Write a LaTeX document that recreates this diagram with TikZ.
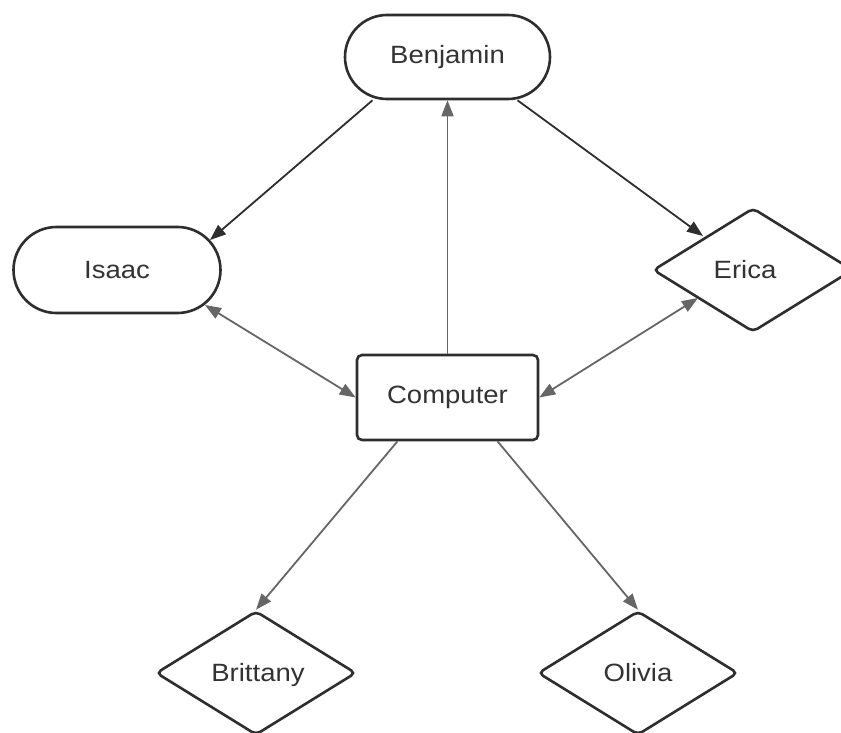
\documentclass[tikz,border=0pt]{standalone}
\usepackage{fontspec}
\setmainfont{Liberation Sans}[FakeStretch=1.1]
\usetikzlibrary{shapes.geometric,arrows.meta,calc}
\definecolor{txt}{HTML}{333333}
\definecolor{dark}{HTML}{2E2E2E}
\definecolor{mid}{HTML}{666666}
\tikzset{
  pill/.style={draw=dark, line width=2.6pt, fill=white, minimum width=#1, minimum height=85pt, rounded corners=42pt, inner sep=0pt},
  boxnode/.style={draw=dark, line width=2.6pt, fill=white, minimum width=181pt, minimum height=85pt, rounded corners=5pt, inner sep=0pt},
  dia/.style={draw=dark, line width=2.6pt, fill=white, diamond, aspect=1.61, minimum width=200pt, minimum height=124pt, rounded corners=5pt, inner sep=0pt},
  lbl/.style={text=txt, font=\fontsize{25}{29}\selectfont},
  darkarrow/.style={draw=dark, line width=1.8pt, -{Triangle[length=16pt,width=12pt]}},
  grayarrow/.style={draw=mid, line width=1.8pt, -{Triangle[length=16pt,width=12pt]}},
  grayboth/.style={draw=mid, line width=1.8pt, {Triangle[length=16pt,width=12pt]}-{Triangle[length=16pt,width=12pt]}},
}
\begin{document}
\begin{tikzpicture}[x=1pt,y=-1pt]
\clip (0,0) rectangle (841,733);
\fill[white] (0,0) rectangle (841,733);
\node[pill=205pt, minimum height=84pt] (ben) at (447.5,57) {};
\node[lbl] (benT) at (ben.center) {Benjamin};
\node[pill=207pt, minimum height=86pt, rounded corners=43pt] (isaac) at (117,270) {};
\node[lbl] (isaacT) at (isaac.center) {Isaac};
\node[dia] (erica) at (753,270) {};
\node[lbl] (ericaT) at ([xshift=-8pt]erica.center) {Erica};
\node[boxnode] (comp) at (447.5,397.5) {};
\node[lbl] (compT) at (comp.center) {Computer};
\node[dia] (britt) at (256,673) {};
\node[lbl] (brittT) at ([xshift=2pt,yshift=-2pt]britt.center) {Brittany};
\node[dia] (oliv) at (638,673) {};
\node[lbl] (olivT) at (oliv.center) {Olivia};

\coordinate (isaacA) at ($(isaac.center)+(93,-30)$);
\coordinate (isaacB) at ($(isaac.center)+(88,35)$);
\coordinate (ericaA) at ($(erica.center)+(-50,-34)$);
\coordinate (ericaB) at ($(erica.center)+(-55,28)$);

\draw[darkarrow] ([xshift=-75pt]ben.south) -- (isaacA);
\draw[darkarrow] ([xshift=70pt]ben.south) -- (ericaA);
\draw[grayarrow] (comp.north) -- (ben.south);
\draw[grayboth] (isaacB) -- (comp.west);
\draw[grayboth] (ericaB) -- (comp.east);
\draw[grayarrow] ([xshift=-50pt]comp.south) -- (britt.north);
\draw[grayarrow] ([xshift=50pt]comp.south) -- (oliv.north);
\end{tikzpicture}
\end{document}
